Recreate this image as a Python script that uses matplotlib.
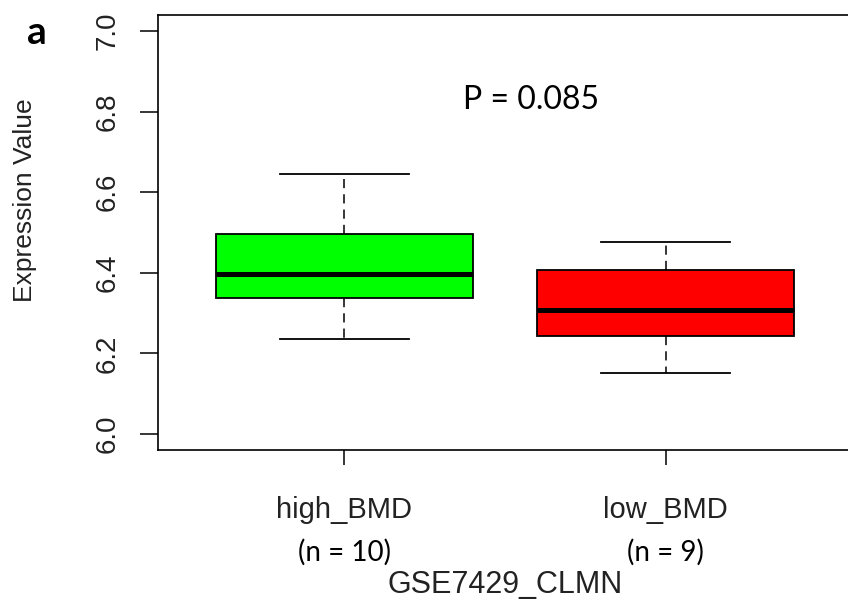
import matplotlib.pyplot as plt
from matplotlib.transforms import blended_transform_factory

# boxplot summary
groups = ['high_BMD', 'low_BMD']
counts = [10, 9]
lower_whisker = [6.235, 6.150]
q1 = [6.337, 6.243]
median = [6.397, 6.308]
q3 = [6.497, 6.408]
upper_whisker = [6.645, 6.477]
colors = ['#00ff00', '#ff0000']
p_text = 'P = 0.085'
y_ticks = [6.0, 6.2, 6.4, 6.6, 6.8, 7.0]

fig = plt.figure(figsize=(8.48, 6.06), dpi=100)
ax = fig.add_axes([158 / 848, 1 - 450 / 606, (852 - 158) / 848, (450 - 15) / 606])

stats = []
for i, g in enumerate(groups):
    stats.append(dict(label=g, whislo=lower_whisker[i], q1=q1[i], med=median[i],
                      q3=q3[i], whishi=upper_whisker[i], fliers=[]))

bp = ax.bxp(stats, positions=[1, 2], widths=0.8, patch_artist=True,
            showfliers=False,
            boxprops=dict(linewidth=1.3, edgecolor='black'),
            medianprops=dict(color='black', linewidth=3.6, solid_capstyle='butt'),
            whiskerprops=dict(color='black', linewidth=1.1, linestyle=(0, (6, 4))),
            capprops=dict(color='black', linewidth=1.3),
            capwidths=0.4)
for patch, c in zip(bp['boxes'], colors):
    patch.set_facecolor(c)

ax.set_xlim(0.42, 2.58)
ax.set_ylim(5.96, 7.04)
ax.set_yticks(y_ticks)
ax.set_yticklabels([f'{v:.1f}' for v in y_ticks], rotation=90, va='center',
                   fontsize=20, family='Liberation Sans', color='#222222')
ax.set_xticks([1, 2])
ax.set_xticklabels(groups, fontsize=21, family='Liberation Sans', color='#222222')
ax.tick_params(axis='y', length=13, width=1.1, pad=14)
ax.tick_params(axis='x', length=11, width=1.1, pad=22)
for s in ax.spines.values():
    s.set_linewidth(1.2)

fig.text(25 / 848, 1 - 200 / 606, 'Expression Value', rotation=90, ha='center',
         va='center', fontsize=19, family='Liberation Sans', color='#222222')

trans = blended_transform_factory(ax.transData, fig.transFigure)
for i, n in enumerate(counts):
    ax.text(i + 1, 1 - 552 / 606, f'(n = {n})', transform=trans, ha='center',
            va='center', fontsize=20, family='Lato')
fig.text(505 / 848, 1 - 585 / 606, 'GSE7429_CLMN', ha='center', va='center',
         fontsize=22, family='Liberation Sans', color='#222222')

ax.text(1.58, 6.83, p_text, ha='center', va='center', fontsize=23, family='Lato')
fig.text(37 / 848, 1 - 33 / 606, 'a', ha='center', va='center', fontsize=28,
         fontweight='bold', family='Lato')

fig.savefig('out.png', dpi=100)
